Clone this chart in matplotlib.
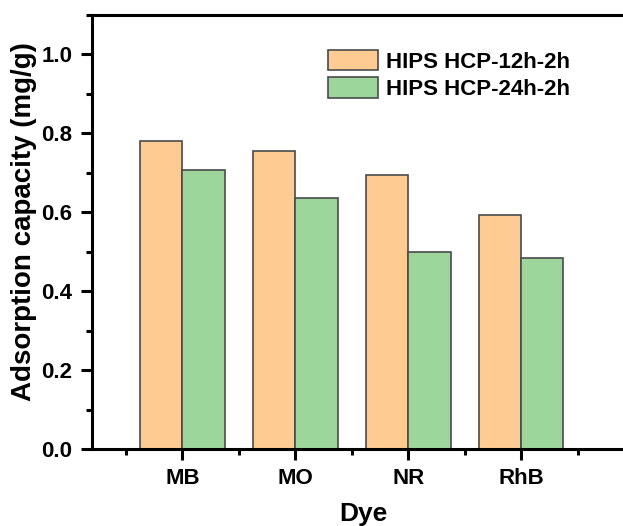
import matplotlib
matplotlib.use('Agg')
import matplotlib.pyplot as plt
import numpy as np
from matplotlib.ticker import MultipleLocator

plt.rcParams['font.family'] = ['Liberation Sans', 'DejaVu Sans']
plt.rcParams['font.weight'] = 'bold'

# datos
dyes = ['MB', 'MO', 'NR', 'RhB']
hcp_12h = [0.780, 0.755, 0.694, 0.593]
hcp_24h = [0.706, 0.636, 0.500, 0.485]
labels = ['HIPS HCP-12h-2h', 'HIPS HCP-24h-2h']

fig = plt.figure(figsize=(6.23, 5.26), dpi=100)
ax = fig.add_axes([92/623, 77/526, 542/623, 434/526])

x = np.arange(1, len(dyes) + 1)
w = 0.375
ax.bar(x - w/2, hcp_12h, w, color='#FECC92', edgecolor='#4a4a4a', linewidth=1.2, label=labels[0])
ax.bar(x + w/2, hcp_24h, w, color='#9DD69B', edgecolor='#4a4a4a', linewidth=1.2, label=labels[1])

ax.set_xlim(0.2, 5.0)
ax.set_ylim(0, 1.1)
ax.set_xticks(x)
ax.set_xticklabels(dyes)
ax.xaxis.set_minor_locator(matplotlib.ticker.FixedLocator(np.arange(0.5, 5.0, 1)))
ax.yaxis.set_major_locator(MultipleLocator(0.2))
ax.yaxis.set_minor_locator(MultipleLocator(0.1))
ax.yaxis.set_major_formatter(matplotlib.ticker.FormatStrFormatter('%.1f'))

for s in ax.spines.values():
    s.set_linewidth(2.2)
ax.spines['right'].set_visible(False)
ax.tick_params(which='major', direction='out', length=8, width=2.2, labelsize=16, pad=6)
ax.tick_params(which='minor', direction='out', length=4, width=2.2)

ax.set_xlabel('Dye', fontsize=19, fontweight='bold', labelpad=9)
ax.set_ylabel('Adsorption capacity (mg/g)', fontsize=20, fontweight='bold')
ax.yaxis.set_label_coords(-0.102, 0.525)

ax.legend(loc='upper left', bbox_to_anchor=(0.435, 0.92), frameon=False, fontsize=16,
          borderpad=0, borderaxespad=0,
          handlelength=2.25, handleheight=1.05, handletextpad=0.35, labelspacing=0.2)

plt.savefig('out.png', dpi=100)
